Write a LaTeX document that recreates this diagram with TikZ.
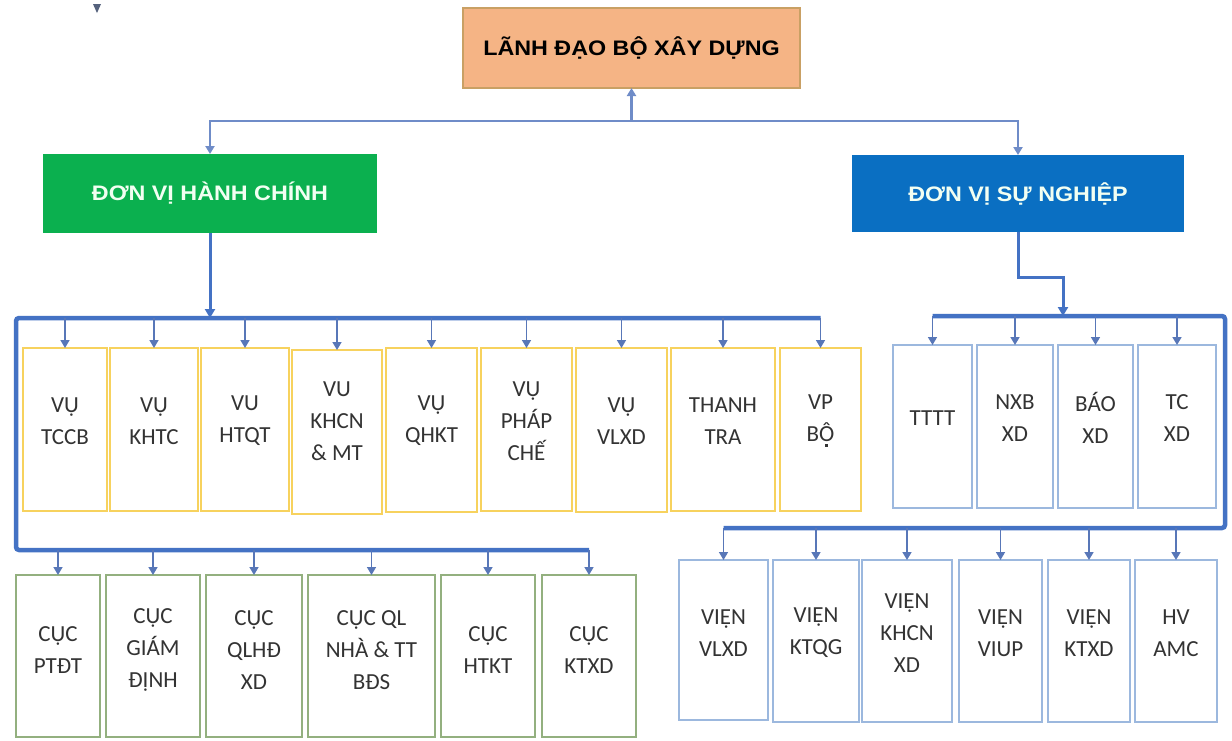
\documentclass[tikz,border=0pt]{standalone}
\usepackage{fontspec}
\usepackage{graphicx}
\setmainfont{Carlito}
\newfontfamily\hdrfont{Liberation Sans}
\usetikzlibrary{arrows.meta}
\definecolor{busc}{HTML}{4472C4}
\definecolor{arc}{HTML}{5877B8}
\definecolor{topc}{HTML}{6F8CC8}
\definecolor{peach}{HTML}{F5B485}
\definecolor{peachb}{HTML}{C9A064}
\definecolor{grn}{HTML}{0BB04F}
\definecolor{blu}{HTML}{0A6FC2}
\definecolor{ylw}{HTML}{F7D25E}
\definecolor{gb}{HTML}{93B07F}
\definecolor{bb}{HTML}{9CB8DE}
\definecolor{txt}{HTML}{333333}
\definecolor{hwhite}{HTML}{F2FFF2}
\definecolor{stray}{HTML}{55627D}
\newcommand{\bx}[8]{%
  \node[#1, minimum width={(#5)-(#3)}, minimum height={(#6)-(#4)}] (#2) at ({((#3)+(#5))/2},{((#4)+(#6))/2}) {};
  \node[lbl] (#2t) at ({((#3)+(#5))/2},#7) {#8};}
\newcommand{\Ocd}{\ooalign{Ô\cr\hidewidth\raisebox{-0.22em}{\rule{2.6pt}{2.6pt}}\hidewidth\cr}}
\begin{document}
\begin{tikzpicture}[x=1pt,y=-1pt,
  box/.style={rectangle, inner sep=0pt, outer sep=0pt},
  ybox/.style={box, draw=ylw, line width=2.5pt, fill=white},
  gbox/.style={box, draw=gb, line width=2pt, fill=white},
  bbox/.style={box, draw=bb, line width=2pt, fill=white},
  lbl/.style={align=center, font=\fontsize{23}{32}\selectfont, text=txt, inner sep=0pt},
  hdr/.style={box, font=\hdrfont\bfseries\fontsize{21}{25}\selectfont},
  bus/.style={draw=busc, line width=4.5pt, rounded corners=3pt},
  sarr/.style={draw=arc, line width=1.6pt, -{Triangle[width=9pt,length=8pt]}},
  mid/.style={draw=busc, line width=3pt, -{Triangle[width=10pt,length=9pt]}},
  conn/.style={draw=topc, line width=2.2pt}
]
\useasboundingbox (0,0) rectangle (1232,740);
\fill[white] (0,0) rectangle (1232,740);
\fill[stray] (93,4) -- (101,4) -- (97,13) -- cycle;

% header boxes
\node[hdr, fill=peach, draw=peachb, line width=1.5pt, minimum width=337, minimum height=80, text=black] (top) at (631.5,48) {\scalebox{1.11}[1]{LÃNH ĐẠO BỘ XÂY DỰNG}};
\node[hdr, fill=grn, minimum width=334, minimum height=79, text=hwhite] (dvhc) at (210,193.5) {\scalebox{1.11}[1]{ĐƠN VỊ HÀNH CHÍNH}};
\node[hdr, fill=blu, minimum width=332, minimum height=77, text=hwhite] (dvsn) at (1018,193.5) {\scalebox{1.11}[1]{ĐƠN VỊ SỰ NGHIỆP}};

% yellow row
\bx{ybox}{y1}{23}{348}{107}{511}{421}{VỤ\\TCCB}
\bx{ybox}{y2}{110}{348}{198}{511}{421}{VỤ\\KHTC}
\bx{ybox}{y3}{201}{348}{289}{511}{421}{VU\\HTQT}
\bx{ybox}{y4}{292}{350}{382}{514}{421}{VU\\KHCN\\\& MT}
\bx{ybox}{y5}{386}{348}{477}{512}{421}{VỤ\\QHKT}
\bx{ybox}{y6}{481}{348}{572}{511}{421}{VỤ\\PHÁP\\CHẾ}
\bx{ybox}{y7}{576}{348}{667}{512}{421}{VỤ\\VLXD}
\bx{ybox}{y8}{671}{348}{775}{511}{421}{THANH\\TRA}
\bx{ybox}{y9}{780}{348}{861}{511}{421}{VP\\B\Ocd}

% green row
\bx{gbox}{c1}{16}{575}{100}{737}{650}{CỤC\\PTĐT}
\bx{gbox}{c2}{106}{575}{200}{737}{650}{CỤC\\GIÁM\\ĐỊNH}
\bx{gbox}{c3}{206}{575}{302}{737}{650}{CỤC\\QLHĐ\\XD}
\bx{gbox}{c4}{308}{575}{435}{737}{650}{CỤC QL\\NHÀ \& TT\\BĐS}
\bx{gbox}{c5}{441}{575}{535}{737}{650}{CỤC\\HTKT}
\bx{gbox}{c6}{542}{575}{636}{737}{650}{CỤC\\KTXD}

% blue upper row
\bx{bbox}{u1}{893}{345}{972}{508}{418}{TTTT}
\bx{bbox}{u2}{977}{345}{1053}{508}{418}{NXB\\XD}
\bx{bbox}{u3}{1058}{345}{1133}{508}{418}{BÁO\\XD}
\bx{bbox}{u4}{1138}{345}{1216}{508}{418}{TC\\XD}

% blue lower row
\bx{bbox}{v1}{679}{560}{768}{720}{633}{VIỆN\\VLXD}
\bx{bbox}{v2}{773}{560}{859}{722}{633}{VIỆN\\KTQG}
\bx{bbox}{v3}{862}{560}{952}{722}{633}{VIỆN\\KHCN\\XD}
\bx{bbox}{v4}{959}{560}{1042}{722}{633}{VIỆN\\VIUP}
\bx{bbox}{v5}{1048}{560}{1130}{722}{633}{VIỆN\\KTXD}
\bx{bbox}{v6}{1135}{560}{1217}{722}{633}{HV\\AMC}

% coordinates
\coordinate (tj) at (0,121);
\coordinate (busL) at (0,318);
\coordinate (busLB) at (0,550);
\coordinate (lx) at (16,0);
\coordinate (kink) at (0,277);
\coordinate (rj) at (1063,316);
\coordinate (busR) at (0,316);
\coordinate (rc) at (1225,0);
\coordinate (busB) at (0,528);

% top connectors
\draw[conn, {Triangle[width=9pt,length=8pt]}-{Triangle[width=9pt,length=8pt]}] (dvhc.north) -- (dvhc.north |- tj) -- (dvsn.north |- tj) -- (dvsn.north);
\draw[conn, -{Triangle[width=9pt,length=8pt]}] (top.south |- tj) -- (top.south);

% left buses
\draw[bus] (y9.north |- busL) -- (lx |- busL) -- (lx |- busLB) -- (c6.north |- busLB);
\draw[mid] (dvhc.south) -- (dvhc.south |- busL);
\foreach \n in {y1,y2,y3,y4,y5,y6,y7,y8,y9} \draw[sarr] (\n.north |- busL) -- (\n.north);
\foreach \n in {c1,c2,c3,c4,c5,c6} \draw[sarr] (\n.north |- busLB) -- (\n.north);

% right buses
\draw[bus] (u1.north |- busR) -- (rc |- busR) -- (rc |- busB) -- (v1.north |- busB);
\draw[mid] (dvsn.south) -- (dvsn.south |- kink) -| (rj);
\foreach \n in {u1,u2,u3,u4} \draw[sarr] (\n.north |- busR) -- (\n.north);
\foreach \n in {v1,v2,v3,v4,v5,v6} \draw[sarr] (\n.north |- busB) -- (\n.north);
\end{tikzpicture}
\end{document}
